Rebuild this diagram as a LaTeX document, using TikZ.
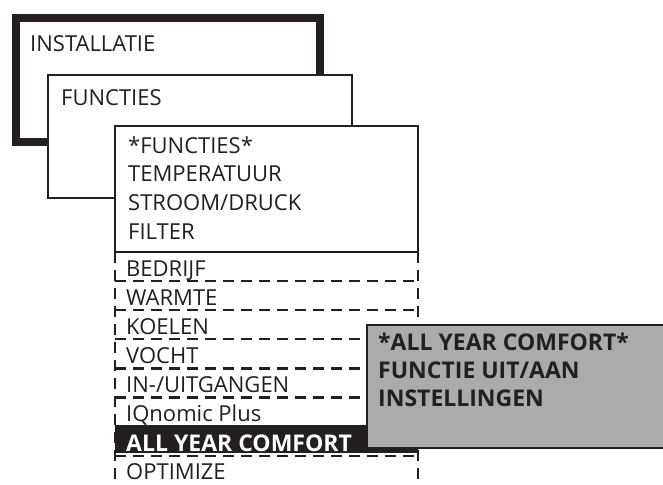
\documentclass[tikz,border=0pt]{standalone}
\usepackage{fontspec}
\setmainfont{Open Sans}
\usepackage{tikz}
\definecolor{inkdark}{HTML}{231F20}
\definecolor{menugray}{HTML}{ABABAB}

\begin{document}
\begin{tikzpicture}[x=1pt,y=-1pt,
  box/.style={draw=inkdark,fill=white,line width=2.3pt,inner sep=0pt,outer sep=0pt,anchor=north west},
  rowbox/.style={inner sep=0pt,outer sep=0pt,anchor=north west,minimum width=303pt,minimum height=29.1pt},
  rowline/.style={draw=inkdark,line width=2.3pt,dash pattern=on 11pt off 7pt},
  item/.style={anchor=base west,inner sep=0pt,text=inkdark,font=\fontsize{22}{26}\selectfont},
  bolditem/.style={item,font=\fontsize{23}{27}\selectfont\bfseries}]
\useasboundingbox (0,0) rectangle (663,484);
\node[box,line width=8pt,minimum width=304pt,minimum height=123.5pt] (inst) at (16,18.5) {};
\node[item] (instlbl) at (30,52) {INSTALLATIE};
\node[box,minimum width=304pt,minimum height=123pt] (func) at (48,75) {};
\node[item] (funclbl) at (61,106) {FUNCTIES};
\node[box,minimum width=303pt,minimum height=126pt] (menu) at (115,126) {};
\foreach \txt [count=\i from 0] in {*FUNCTIES*,TEMPERATUUR,STROOM/DRUCK,FILTER}
  \node[item] (head\i) at (128,{153+28.7*\i}) {\txt};
% submenu rows
\foreach \txt [count=\i from 0] in {BEDRIJF,WARMTE,KOELEN,VOCHT,IN-/UITGANGEN,IQnomic Plus,{},OPTIMIZE} {
  \node[rowbox] (row\i) at (115,{252+29.1*\i}) {};
  \node[item] (lbl\i) at (126,{276+29.1*\i}) {\txt};
  \ifnum\i<7 \draw[rowline] (row\i.south west) -- (row\i.south east); \fi
}
\draw[rowline] (menu.south west) -- (row7.south west);
\draw[rowline] (menu.south east) -- (row7.south east);
\node[fill=inkdark,inner sep=0pt,outer sep=0pt,anchor=north west,minimum width=303pt,minimum height=28pt] (sel) at (115,425) {};
\node[bolditem,text=white] (sellbl) at (126,451) {ALL YEAR COMFORT};
\node[box,fill=menugray,line width=2pt,minimum width=300pt,minimum height=123pt] (sub) at (367,325) {};
\foreach \txt [count=\i from 0] in {*ALL YEAR COMFORT*,FUNCTIE UIT/AAN,INSTELLINGEN}
  \node[bolditem] (sub\i) at (378,{350+28*\i}) {\txt};
\end{tikzpicture}
\end{document}
